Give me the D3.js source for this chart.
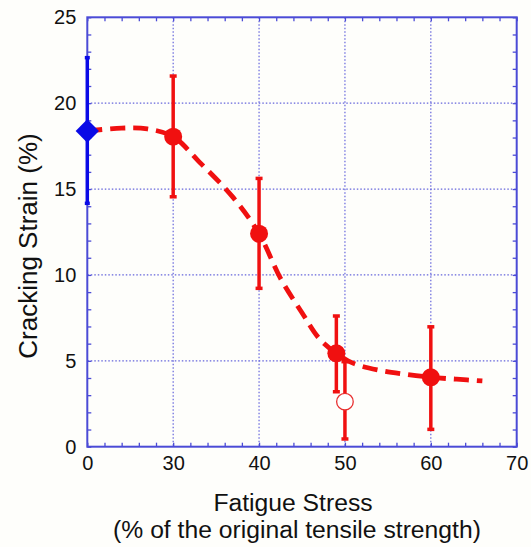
<!DOCTYPE html>
<html lang="en">
<head>
  <meta charset="utf-8">
  <title>Cracking Strain vs Fatigue Stress</title>
  <script src="https://cdn.jsdelivr.net/npm/d3@7"></script>
  <style>
    body { margin: 0; background: #fefefb; }
    svg { display: block; }
    text { font-family: "Liberation Sans", Arial, sans-serif; fill: #111; }
  </style>
</head>
<body>
  <svg class="chart"></svg>
</body>
<script>
  // data ("0" on the x axis sits where 20 would be)
  var xTickValues = [20, 30, 40, 50, 60, 70];
  var xTickLabels = ["0", "30", "40", "50", "60", "70"];
  var yTickValues = [0, 5, 10, 15, 20, 25];

  // control specimen (blue diamond)
  var ctrlX = [20];
  var ctrlY = [18.38];
  var ctrlLo = [14.17];
  var ctrlHi = [22.65];

  // fatigued specimens (red filled dots)
  var fatX = [30, 40, 49, 60];
  var fatY = [18.05, 12.4, 5.44, 4.04];
  var fatLo = [14.55, 9.22, 3.2, 1.01];
  var fatHi = [21.58, 15.62, 7.61, 6.98];

  // open circle at 50
  var openX = [50];
  var openY = [2.62];
  var openLo = [0.45];
  var openHi = [4.95];

  // dashed trend line
  var trendX = [20, 24, 27, 30, 33, 37, 40, 42.5, 45, 47, 49, 51, 54, 57, 60, 63, 66];
  var trendY = [18.38, 18.55, 18.5, 18.05, 16.6, 14.5, 12.4, 9.8, 7.8, 6.3, 5.44, 4.85, 4.45, 4.22, 4.04, 3.93, 3.83];

  (function () {
    var W = 531, H = 547;
    var pL = 87.3, pT = 17.3, pR = 516.7, pB = 446.7;
    var axisCol = "#4b4bd6";

    var svg = d3.select(".chart").attr("width", W).attr("height", H);

    var x = d3.scaleLinear().domain([20, 70]).range([pL, pR]);
    var y = d3.scaleLinear().domain([0, 25]).range([pB, pT]);

    // grid
    var grid = svg.append("g").attr("stroke", "#6464dc").attr("stroke-width", 1.2)
      .attr("stroke-dasharray", "1.5,2");
    grid.selectAll(".gx").data([30, 40, 50, 60]).enter().append("line")
      .attr("x1", d => x(d)).attr("x2", d => x(d)).attr("y1", pT).attr("y2", pB);
    grid.selectAll(".gy").data([5, 10, 15, 20]).enter().append("line")
      .attr("y1", d => y(d)).attr("y2", d => y(d)).attr("x1", pL).attr("x2", pR);

    // minor ticks, inward, on all four sides
    var minorX = d3.range(20, 70.01, 2);
    var minorY = d3.range(0, 25.01, 1);
    function tickStyle(g) {
      g.select(".domain").remove();
      g.selectAll("line").attr("stroke", axisCol).attr("stroke-width", 1.3);
      g.selectAll("text").remove();
    }
    svg.append("g").attr("transform", "translate(0," + pB + ")")
      .call(d3.axisBottom(x).tickValues(minorX).tickSize(-4)).call(tickStyle);
    svg.append("g").attr("transform", "translate(0," + pT + ")")
      .call(d3.axisTop(x).tickValues(minorX).tickSize(-4)).call(tickStyle);
    svg.append("g").attr("transform", "translate(" + pL + ",0)")
      .call(d3.axisLeft(y).tickValues(minorY).tickSize(-4)).call(tickStyle);
    svg.append("g").attr("transform", "translate(" + pR + ",0)")
      .call(d3.axisRight(y).tickValues(minorY).tickSize(-4)).call(tickStyle);

    // frame
    svg.append("rect").attr("x", pL).attr("y", pT)
      .attr("width", pR - pL).attr("height", pB - pT)
      .attr("fill", "none").attr("stroke", axisCol).attr("stroke-width", 2);

    // tick labels
    var xAxis = svg.append("g").attr("transform", "translate(0," + pB + ")")
      .call(d3.axisBottom(x).tickValues(xTickValues).tickSize(0).tickPadding(9)
        .tickFormat((d, i) => xTickLabels[i]));
    xAxis.select(".domain").remove();
    xAxis.selectAll("text").style("font-size", "20px").attr("fill", "#111");

    var yAxis = svg.append("g").attr("transform", "translate(" + pL + ",0)")
      .call(d3.axisLeft(y).tickValues(yTickValues).tickSize(0).tickPadding(11));
    yAxis.select(".domain").remove();
    yAxis.selectAll("text").style("font-size", "20px").attr("fill", "#111");

    // axis titles
    svg.append("text").attr("x", 293).attr("y", 511).attr("text-anchor", "middle")
      .style("font-size", "24.7px").text("Fatigue Stress");
    svg.append("text").attr("x", 297).attr("y", 538).attr("text-anchor", "middle")
      .style("font-size", "24.7px").text("(% of the original tensile strength)");
    svg.append("text").attr("transform", "translate(37,246) rotate(-90)")
      .attr("text-anchor", "middle").style("font-size", "26px").text("Cracking Strain (%)");

    // trend line
    var line = d3.line().x(d => x(d[0])).y(d => y(d[1])).curve(d3.curveCatmullRom);
    svg.append("path").datum(d3.zip(trendX, trendY))
      .attr("d", line).attr("fill", "none").attr("stroke", "#f01010")
      .attr("stroke-width", 4.8).attr("stroke-dasharray", "15,8");

    // error bars
    function errorBars(xs, lo, hi, col, w, cap) {
      var g = svg.append("g").attr("stroke", col).attr("stroke-width", w);
      g.selectAll(".v").data(xs).enter().append("line")
        .attr("x1", d => x(d)).attr("x2", d => x(d))
        .attr("y1", (d, i) => y(lo[i])).attr("y2", (d, i) => y(hi[i]));
      g.selectAll(".lo").data(xs).enter().append("line")
        .attr("x1", d => x(d) - cap).attr("x2", d => x(d) + cap)
        .attr("y1", (d, i) => y(lo[i])).attr("y2", (d, i) => y(lo[i]));
      g.selectAll(".hi").data(xs).enter().append("line")
        .attr("x1", d => x(d) - cap).attr("x2", d => x(d) + cap)
        .attr("y1", (d, i) => y(hi[i])).attr("y2", (d, i) => y(hi[i]));
    }
    errorBars(ctrlX, ctrlLo, ctrlHi, "#0a0ae6", 3.5, 2.5);
    errorBars(fatX, fatLo, fatHi, "#f01010", 3.5, 3.5);
    errorBars(openX, openLo, openHi, "#f01010", 3.5, 3.5);

    // markers
    svg.selectAll(".dot").data(fatX).enter().append("circle")
      .attr("cx", d => x(d)).attr("cy", (d, i) => y(fatY[i])).attr("r", 9)
      .attr("fill", "#f01010");
    svg.selectAll(".open").data(openX).enter().append("circle")
      .attr("cx", d => x(d)).attr("cy", (d, i) => y(openY[i])).attr("r", 8.3)
      .attr("fill", "#ffffff").attr("stroke", "#e83030").attr("stroke-width", 1.3);
    svg.selectAll(".diamond").data(ctrlX).enter().append("path")
      .attr("d", d3.symbol().type(d3.symbolSquare).size(272))
      .attr("transform", (d, i) => "translate(" + x(d) + "," + y(ctrlY[i]) + ") rotate(45)")
      .attr("fill", "#0a0ae6");
  })();
</script>
</html>
